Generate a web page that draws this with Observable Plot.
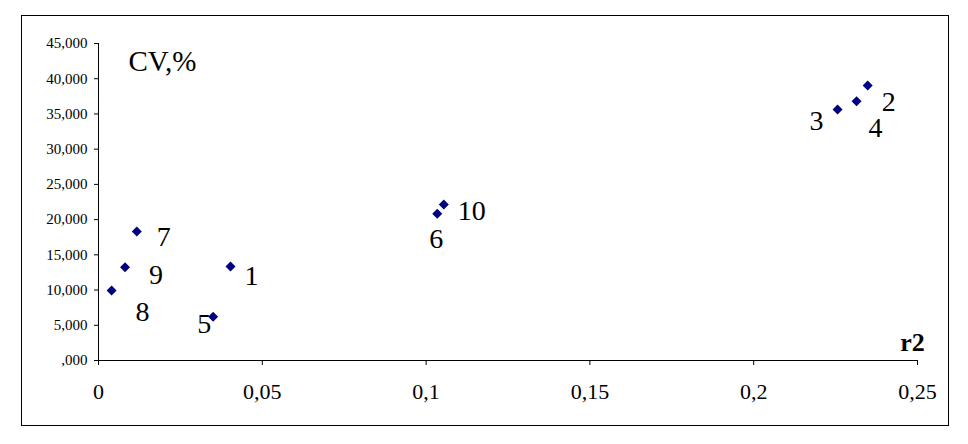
<!DOCTYPE html>
<html>
<head>
<meta charset="utf-8">
<script src="https://cdn.jsdelivr.net/npm/d3@7"></script>
<script src="https://cdn.jsdelivr.net/npm/@observablehq/plot@0.6"></script>
<style>
  html, body { margin: 0; padding: 0; background: #fff; }
  #wrap { position: relative; width: 968px; height: 444px; }
  #border { position: absolute; left: 21px; top: 15px; width: 926px; height: 409px; border: 1px solid #000; pointer-events: none; }
</style>
</head>
<body>
<div id="wrap"><div id="border"></div></div>
<script>
// Data
const labels = ["1", "2", "3", "4", "5", "6", "7", "8", "9", "10"];
const r2 = [0.0403, 0.2348, 0.2256, 0.2314, 0.035, 0.1034, 0.0117, 0.004, 0.0081, 0.1054];
const cv = [13.34, 39.04, 35.63, 36.81, 6.2, 20.83, 18.31, 9.94, 13.25, 22.15];
const xTicks = [0, 0.05, 0.1, 0.15, 0.2, 0.25];
const yTicks = [0, 5, 10, 15, 20, 25, 30, 35, 40, 45];

// Label placement (pixel offsets from each point)
const labelOffsets = [[21, 10], [21, 17], [-21, 12], [19, 27], [-9, 7], [-1, 25], [27, 6], [31, 22], [31, 8], [28, 7]];

const data = labels.map((l, i) => ({label: l, x: r2[i], y: cv[i]}));

const labelMarks = data.map((d, i) => Plot.text([d], {
  x: "x", y: "y", text: "label",
  dx: labelOffsets[i][0], dy: labelOffsets[i][1],
  textAnchor: "middle", lineAnchor: "middle",
  fontSize: 28, fill: "#000"
}));

const chart = Plot.plot({
  width: 968,
  height: 444,
  marginLeft: 98,
  marginRight: 51,
  marginTop: 43,
  marginBottom: 84,
  style: {fontFamily: "'Liberation Serif', 'Times New Roman', serif", background: "transparent", color: "#000"},
  x: {domain: [0, 0.25]},
  y: {domain: [0, 45]},
  marks: [
    Plot.ruleY([0], {x1: 0, x2: 0.25, stroke: "#000", strokeWidth: 1}),
    Plot.ruleX([0], {y1: 0, y2: 45, stroke: "#000", strokeWidth: 1}),
    Plot.axisX({
      ticks: xTicks, tickSize: 5, tickPadding: 18, fontSize: 22,
      tickFormat: d => String(d).replace(".", ","), label: null
    }),
    Plot.axisY({
      ticks: yTicks, tickSize: 4, tickPadding: 7, fontSize: 15,
      tickFormat: d => (d === 0 ? "" : String(d)) + ",000", label: null
    }),
    Plot.dot(data, {x: "x", y: "y", symbol: "diamond2", r: 4.5, fill: "#000080", stroke: "none"}),
    ...labelMarks,
    Plot.text(["CV,%"], {frameAnchor: "top-left", dx: 64, dy: 18, textAnchor: "middle", lineAnchor: "middle", fontSize: 29, fill: "#000"}),
    Plot.text(["r2"], {frameAnchor: "bottom-right", dx: -5, dy: -18, textAnchor: "middle", lineAnchor: "middle", fontSize: 26, fontWeight: "bold", fill: "#000"})
  ]
});
document.getElementById("wrap").insertBefore(chart, document.getElementById("border"));
</script>
</body>
</html>
